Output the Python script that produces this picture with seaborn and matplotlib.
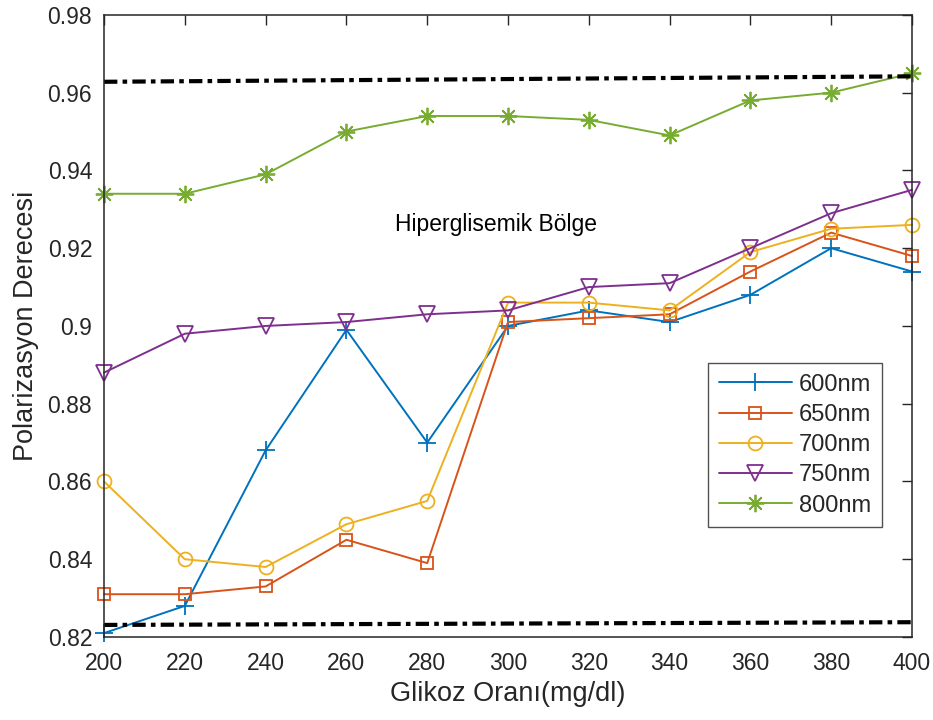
import matplotlib
matplotlib.use("Agg")
import matplotlib.pyplot as plt
import seaborn as sns
import pandas as pd

# Glucose concentration (mg/dl)
glikoz = [200, 220, 240, 260, 280, 300, 320, 340, 360, 380, 400]

# Degree of polarization per wavelength
p600 = [0.821, 0.828, 0.868, 0.899, 0.870, 0.900, 0.904, 0.901, 0.908, 0.920, 0.914]
p650 = [0.831, 0.831, 0.833, 0.845, 0.839, 0.901, 0.902, 0.903, 0.914, 0.924, 0.918]
p700 = [0.860, 0.840, 0.838, 0.849, 0.855, 0.906, 0.906, 0.904, 0.919, 0.925, 0.926]
p750 = [0.888, 0.898, 0.900, 0.901, 0.903, 0.904, 0.910, 0.911, 0.920, 0.929, 0.935]
p800 = [0.934, 0.934, 0.939, 0.950, 0.954, 0.954, 0.953, 0.949, 0.958, 0.960, 0.965]

labels = ["600nm", "650nm", "700nm", "750nm", "800nm"]
series = [p600, p650, p700, p750, p800]

# Region boundary lines (start / end values)
ust_sinir = [0.9628, 0.9642]
alt_sinir = [0.8231, 0.8238]
sinir_x = [200, 400]

colors = ["#0072BD", "#D95319", "#EDB120", "#7E2F8E", "#77AC30"]
markers = ["+", "s", "o", "v", (8, 2, 0)]
msizes = [13, 9, 10, 11.5, 12.5]

sns.set_theme(style="white")
plt.rcParams["font.family"] = ["Liberation Sans", "DejaVu Sans"]

fig = plt.figure(figsize=(9.33, 7.2), dpi=100)
ax = fig.add_axes([0.1115, 0.1153, 0.866, 0.864])

for lab, vals, c, m, ms in zip(labels, series, colors, markers, msizes):
    df = pd.DataFrame({"x": glikoz, "y": vals})
    sns.lineplot(data=df, x="x", y="y", ax=ax, color=c, marker=m,
                 markersize=ms, markerfacecolor="none", markeredgecolor=c,
                 markeredgewidth=1.3, linewidth=1.4, label=lab, clip_on=False)

dash = (0, (3.2, 1.25, 1.1, 1.25))
for vals in (ust_sinir, alt_sinir):
    sns.lineplot(x=sinir_x, y=vals, ax=ax, color="black", linewidth=3.0,
                 linestyle=dash, legend=False)

ax.text(297, 0.9243, "Hiperglisemik Bölge", ha="center", va="baseline",
        fontsize=16.5, color="black")

ax.set_xlim(200, 400)
ax.set_ylim(0.82, 0.98)
ax.set_xticks(range(200, 401, 20))
ax.set_yticks([0.82, 0.84, 0.86, 0.88, 0.90, 0.92, 0.94, 0.96, 0.98])
ax.set_yticklabels(["0.82", "0.84", "0.86", "0.88", "0.9", "0.92", "0.94", "0.96", "0.98"])
ax.set_xlabel("Glikoz Oranı(mg/dl)", fontsize=19.5, color="#262626", labelpad=4)
ax.set_ylabel("Polarizasyon Derecesi", fontsize=19.5, color="#262626", labelpad=6)

ax.tick_params(direction="in", length=7, width=1, colors="#262626",
               labelsize=16.5, top=True, right=True, labelcolor="#262626")
ax.tick_params(axis="x", pad=11)
ax.tick_params(axis="y", pad=8.5)
for s in ax.spines.values():
    s.set_color("#262626")
    s.set_linewidth(1.1)
    s.set_visible(True)

handles, labs = ax.get_legend_handles_labels()
leg = ax.legend(handles[:5], labs[:5], loc="upper left",
                bbox_to_anchor=((708 - 104) / 808, 1 - (363 - 15) / 622),
                fontsize=17, frameon=True, fancybox=False, edgecolor="#262626",
                handlelength=3.1, handletextpad=0.3, borderpad=0.45,
                labelspacing=0.35, borderaxespad=0)
leg.get_frame().set_linewidth(1.0)

fig.savefig("out.png", dpi=100, facecolor="white")
